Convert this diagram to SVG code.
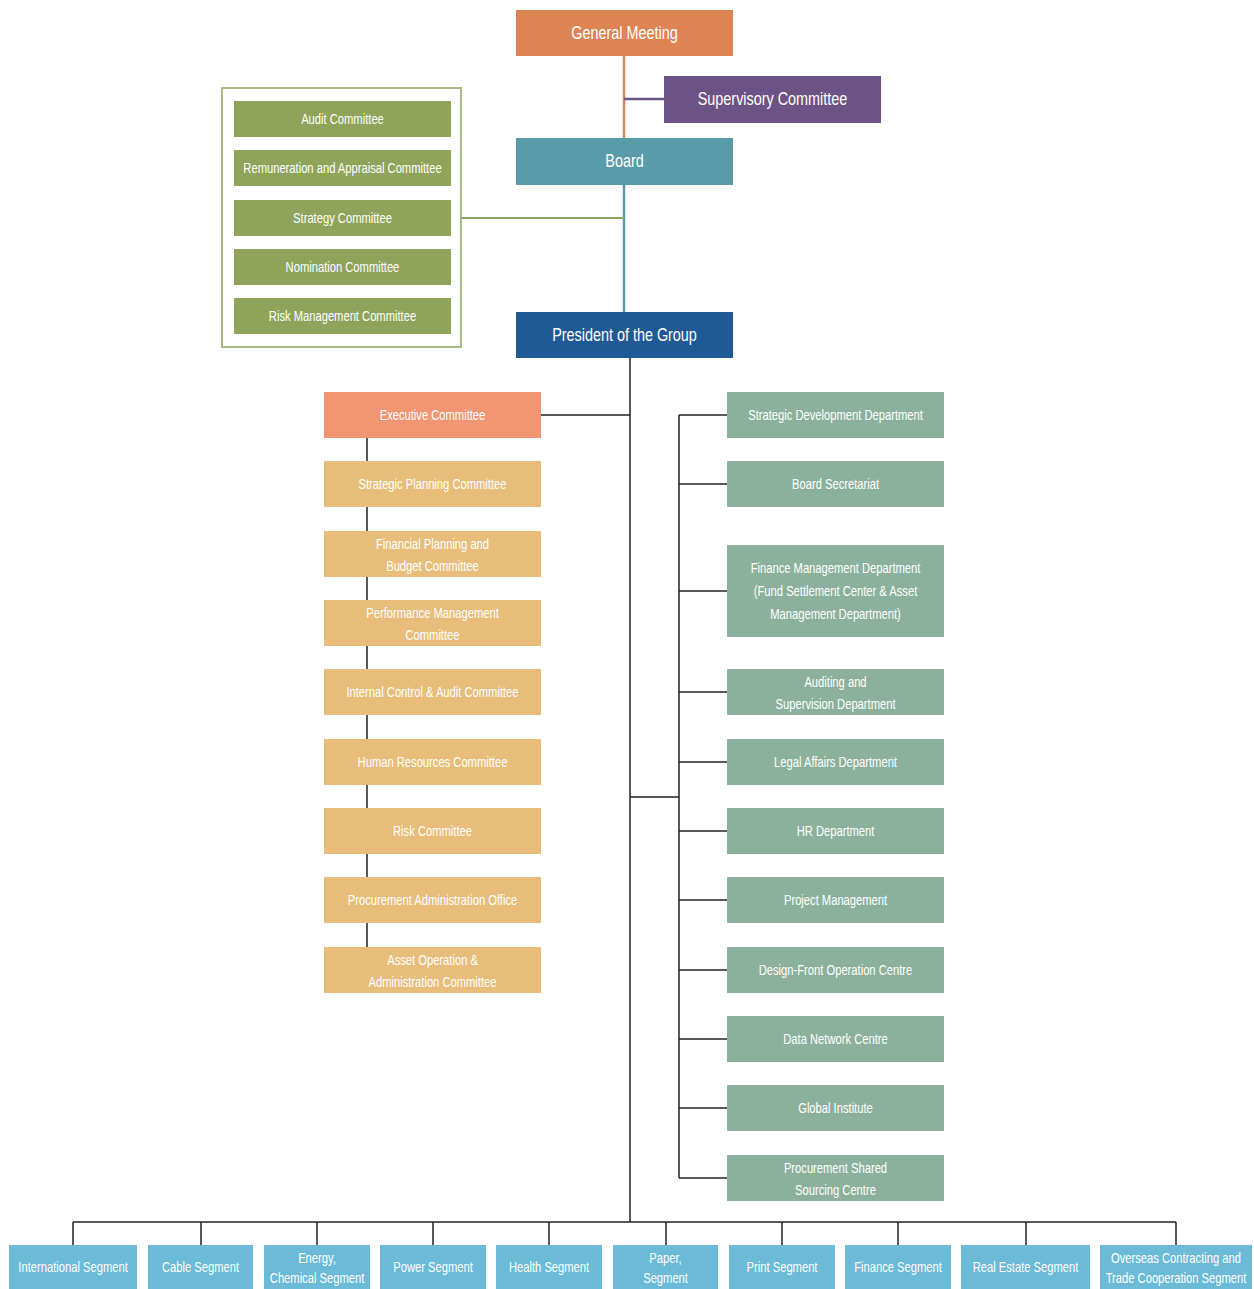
<svg xmlns="http://www.w3.org/2000/svg" width="1254" height="1289" viewBox="0 0 1254 1289">
<style>
text{font-family:"Liberation Sans",Arial,sans-serif;fill:#fff;text-anchor:middle;transform-box:fill-box;transform-origin:center;transform:scaleX(0.8)}
.big{font-size:18px}
.sm{font-size:14px}
.k{stroke:#222;stroke-width:1.5;fill:none}
.gm{fill:#DC8454}.sc{fill:#6C5285}.bd{fill:#5A9BAA}.pr{fill:#1F5A94}
.cm{fill:#8FA45A}.ex{fill:#F29572}.sd{fill:#E8BD7A}.dp{fill:#8BB19C}.sg{fill:#6BBAD8}
</style>
<g id="connectors">
<line x1="624" y1="56" x2="624" y2="138" stroke="#DC8454" stroke-width="2.5"/>
<line x1="624" y1="99" x2="664" y2="99" stroke="#6C5285" stroke-width="2.5"/>
<line x1="624" y1="185" x2="624" y2="312" stroke="#5A9BAA" stroke-width="2.5"/>
<line x1="461" y1="218" x2="624" y2="218" stroke="#8FA45A" stroke-width="2"/>
<path class="k" d="M630 358V1222M541 415H630M367 438V947M630 797H679M679 415V1178M679 415H727M679 484H727M679 591H727M679 692H727M679 762H727M679 831H727M679 900H727M679 970H727M679 1039H727M679 1108H727M679 1178H727"/>
<path class="k" d="M73 1222H1176M73 1222V1245M201 1222V1245M317 1222V1245M433 1222V1245M549 1222V1245M666 1222V1245M782 1222V1245M898 1222V1245M1026 1222V1245M1176 1222V1245"/>
</g>
<g id="general-meeting"><rect class="gm" x="516" y="10" width="217" height="46"/><text class="big" x="624.5" y="39">General Meeting</text></g>
<g id="supervisory-committee"><rect class="sc" x="664" y="76" width="217" height="47"/><text class="big" x="772.5" y="105">Supervisory Committee</text></g>
<g id="board"><rect class="bd" x="516" y="138" width="217" height="47"/><text class="big" x="624.5" y="167">Board</text></g>
<g id="president"><rect class="pr" x="516" y="312" width="217" height="46"/><text class="big" x="624.5" y="341">President of the Group</text></g>
<g id="board-committees">
<rect x="222" y="88" width="239" height="259" fill="#fff" stroke="#A9BA84" stroke-width="2"/>
<g id="bc1"><rect class="cm" x="234" y="101" width="217" height="36"/><text class="sm" x="342.5" y="124">Audit Committee</text></g>
<g id="bc2"><rect class="cm" x="234" y="150" width="217" height="36"/><text class="sm" x="342.5" y="173">Remuneration and Appraisal Committee</text></g>
<g id="bc3"><rect class="cm" x="234" y="200" width="217" height="36"/><text class="sm" x="342.5" y="223">Strategy Committee</text></g>
<g id="bc4"><rect class="cm" x="234" y="249" width="217" height="36"/><text class="sm" x="342.5" y="272">Nomination Committee</text></g>
<g id="bc5"><rect class="cm" x="234" y="298" width="217" height="36"/><text class="sm" x="342.5" y="321">Risk Management Committee</text></g>
</g>
<g id="executive-committee"><rect class="ex" x="324" y="392" width="217" height="46"/><text class="sm" x="432.5" y="420">Executive Committee</text></g>
<g id="lc1"><rect class="sd" x="324" y="461" width="217" height="46"/><text class="sm" x="432.5" y="489">Strategic Planning Committee</text></g>
<g id="lc2"><rect class="sd" x="324" y="531" width="217" height="46"/><text class="sm" x="432.5" y="549">Financial Planning and</text><text class="sm" x="432.5" y="571">Budget Committee</text></g>
<g id="lc3"><rect class="sd" x="324" y="600" width="217" height="46"/><text class="sm" x="432.5" y="618">Performance Management</text><text class="sm" x="432.5" y="640">Committee</text></g>
<g id="lc4"><rect class="sd" x="324" y="669" width="217" height="46"/><text class="sm" x="432.5" y="697">Internal Control &amp; Audit Committee</text></g>
<g id="lc5"><rect class="sd" x="324" y="739" width="217" height="46"/><text class="sm" x="432.5" y="767">Human Resources Committee</text></g>
<g id="lc6"><rect class="sd" x="324" y="808" width="217" height="46"/><text class="sm" x="432.5" y="836">Risk Committee</text></g>
<g id="lc7"><rect class="sd" x="324" y="877" width="217" height="46"/><text class="sm" x="432.5" y="905">Procurement Administration Office</text></g>
<g id="lc8"><rect class="sd" x="324" y="947" width="217" height="46"/><text class="sm" x="432.5" y="965">Asset Operation &amp;</text><text class="sm" x="432.5" y="987">Administration Committee</text></g>
<g id="rd1"><rect class="dp" x="727" y="392" width="217" height="46"/><text class="sm" x="835.5" y="420">Strategic Development Department</text></g>
<g id="rd2"><rect class="dp" x="727" y="461" width="217" height="46"/><text class="sm" x="835.5" y="489">Board Secretariat</text></g>
<g id="rd3"><rect class="dp" x="727" y="545" width="217" height="92"/><text class="sm" x="835.5" y="573">Finance Management Department</text><text class="sm" x="835.5" y="596">(Fund Settlement Center &amp; Asset</text><text class="sm" x="835.5" y="619">Management Department)</text></g>
<g id="rd4"><rect class="dp" x="727" y="669" width="217" height="46"/><text class="sm" x="835.5" y="687">Auditing and</text><text class="sm" x="835.5" y="709">Supervision Department</text></g>
<g id="rd5"><rect class="dp" x="727" y="739" width="217" height="46"/><text class="sm" x="835.5" y="767">Legal Affairs Department</text></g>
<g id="rd6"><rect class="dp" x="727" y="808" width="217" height="46"/><text class="sm" x="835.5" y="836">HR Department</text></g>
<g id="rd7"><rect class="dp" x="727" y="877" width="217" height="46"/><text class="sm" x="835.5" y="905">Project Management</text></g>
<g id="rd8"><rect class="dp" x="727" y="947" width="217" height="46"/><text class="sm" x="835.5" y="975">Design-Front Operation Centre</text></g>
<g id="rd9"><rect class="dp" x="727" y="1016" width="217" height="46"/><text class="sm" x="835.5" y="1044">Data Network Centre</text></g>
<g id="rd10"><rect class="dp" x="727" y="1085" width="217" height="46"/><text class="sm" x="835.5" y="1113">Global Institute</text></g>
<g id="rd11"><rect class="dp" x="727" y="1155" width="217" height="46"/><text class="sm" x="835.5" y="1173">Procurement Shared</text><text class="sm" x="835.5" y="1195">Sourcing Centre</text></g>
<g id="s1"><rect class="sg" x="9" y="1245" width="128" height="44"/><text class="sm" x="73" y="1272">International Segment</text></g>
<g id="s2"><rect class="sg" x="148" y="1245" width="105" height="44"/><text class="sm" x="200.5" y="1272">Cable Segment</text></g>
<g id="s3"><rect class="sg" x="264" y="1245" width="106" height="44"/><text class="sm" x="317" y="1263">Energy,</text><text class="sm" x="317" y="1283">Chemical Segment</text></g>
<g id="s4"><rect class="sg" x="380" y="1245" width="106" height="44"/><text class="sm" x="433" y="1272">Power Segment</text></g>
<g id="s5"><rect class="sg" x="496" y="1245" width="106" height="44"/><text class="sm" x="549" y="1272">Health Segment</text></g>
<g id="s6"><rect class="sg" x="613" y="1245" width="105" height="44"/><text class="sm" x="665.5" y="1263">Paper,</text><text class="sm" x="665.5" y="1283">Segment</text></g>
<g id="s7"><rect class="sg" x="729" y="1245" width="106" height="44"/><text class="sm" x="782" y="1272">Print Segment</text></g>
<g id="s8"><rect class="sg" x="845" y="1245" width="106" height="44"/><text class="sm" x="898" y="1272">Finance Segment</text></g>
<g id="s9"><rect class="sg" x="961" y="1245" width="129" height="44"/><text class="sm" x="1025.5" y="1272">Real Estate Segment</text></g>
<g id="s10"><rect class="sg" x="1100" y="1245" width="152" height="44"/><text class="sm" x="1176" y="1263">Overseas Contracting and</text><text class="sm" x="1176" y="1283">Trade Cooperation Segment</text></g>
</svg>
